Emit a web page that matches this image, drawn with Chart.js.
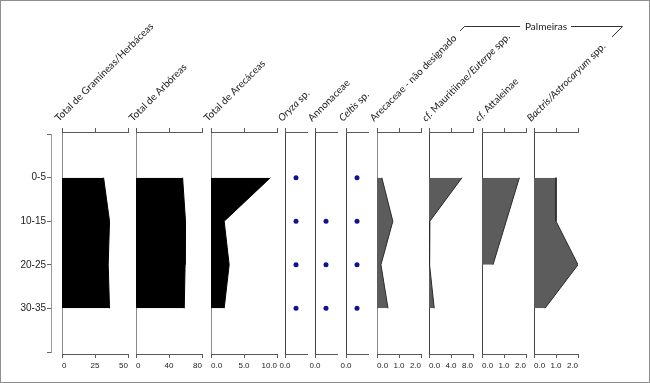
<!DOCTYPE html>
<html lang="pt">
<head>
<meta charset="UTF-8">
<title>Fitólitos por profundidade</title>
<script src="https://cdn.jsdelivr.net/npm/chart.js"></script>
<style>
  body { margin: 0; background: #fff; }
  #wrap { position: relative; width: 650px; height: 383px; overflow: hidden; background: #fff; }
  #wrap canvas { position: absolute; left: 0; top: 0; }
  #frame { position: absolute; left: 0; top: 0; width: 650px; height: 383px; box-sizing: border-box;
           border: 1px solid #8e8e8e; pointer-events: none; }
</style>
</head>
<body>
<div id="wrap">
  <canvas id="depth" width="650" height="383"></canvas>
  <div id="frame"></div>
</div>

<script>
// profundidades (cm)
const depthLabels = ['0-5', '10-15', '20-25', '30-35'];

// valores por amostra, de cima para baixo
const gramineas = [31.5, 36, 35, 36];
const arboreas = [56.5, 60, 59.5, 58.5];
const arecaceas = [9.0, 2.0, 2.75, 2.0];
const oryza = [1, 1, 1, 1];        // presença
const annonaceae = [0, 1, 1, 1];   // presença
const celtis = [1, 1, 1, 1];       // presença
const arecNaoDesig = [0.22, 0.72, 0.18, 0.5];
const mauritiinae = [6.0, 0.15, 0.1, 0.95];
const attaleinae = [1.7, 1.1, 0.5, null];
const bactris = [1.0, 1.0, 2.0, 0.5];

const panelTicks = [[0, 25, 50], [0, 40, 80], [0, 5, 10], [0], [0], [0], [0, 1, 2], [0, 4, 8], [0, 1, 2], [0, 1, 2]];
const panelTickLabels = [['0', '25', '50'], ['0', '40', '80'], ['0.0', '5.0', '10.0'], ['0.0'], ['0.0'], ['0.0'],
                         ['0.0', '1.0', '2.0'], ['0.0', '4.0', '8.0'], ['0.0', '1.0', '2.0'], ['0.0', '1.0', '2.0']];
const presenceMax = 2;

const titles = [
  [['Total de Gramíneas/Herbáceas', false]],
  [['Total de Arbóreas', false]],
  [['Total de Arecáceas', false]],
  [['Oryza', true], [' sp.', false]],
  [['Annonaceae', false]],
  [['Celtis', true], [' sp.', false]],
  [['Arecaceae - não designado', false]],
  [['cf.', true], [' Mauritiinae/', false], ['Euterpe', true], [' spp.', false]],
  [['cf.', true], [' Attaleinae', false]],
  [['Bactris/Astrocaryum', true], [' spp.', false]]
];
const groupLabel = 'Palmeiras';

// layout of the columns
const panels = [
  { series: gramineas, kind: 'area', left: 62, width: 66, fill: '#000', line: '#000', axis: '#8a8a8a' },
  { series: arboreas, kind: 'area', left: 136, width: 66, fill: '#000', line: '#000', axis: '#8a8a8a' },
  { series: arecaceas, kind: 'area', left: 211, width: 66, fill: '#000', line: '#000', axis: '#8a8a8a' },
  { series: oryza, kind: 'dots', left: 285, width: 22, axis: '#444' },
  { series: annonaceae, kind: 'dots', left: 315, width: 22, axis: '#444' },
  { series: celtis, kind: 'dots', left: 346, width: 22, axis: '#444' },
  { series: arecNaoDesig, kind: 'area', left: 377, width: 44, fill: '#5c5c5c', line: '#2a2a2a', axis: '#8a8a8a' },
  { series: mauritiinae, kind: 'area', left: 429, width: 44, fill: '#5c5c5c', line: '#2a2a2a', axis: '#444' },
  { series: attaleinae, kind: 'area', left: 482, width: 44, fill: '#5c5c5c', line: '#2a2a2a', axis: '#444' },
  { series: bactris, kind: 'area', left: 534, width: 44, fill: '#5c5c5c', line: '#2a2a2a', axis: '#444' }
];

const hAxis = '#5a5a5a';
const tickFont = { family: 'Liberation Sans', size: 8 };
const titleFont = '10px Lato';

function titlePlugin(parts) {
  return {
    id: 'columnTitle',
    afterDraw(chart) {
      const { ctx, chartArea } = chart;
      ctx.save();
      ctx.translate(chartArea.left - 3, 122);
      ctx.rotate(-Math.PI / 4);
      ctx.fillStyle = '#1a1a1a';
      ctx.textBaseline = 'alphabetic';
      let x = 0;
      parts.forEach(([txt, it]) => {
        ctx.font = (it ? 'italic ' : '') + titleFont;
        ctx.fillText(txt, x, 0);
        x += ctx.measureText(txt).width;
      });
      ctx.restore();
    }
  };
}

const groupBracket = {
  id: 'groupBracket',
  afterDraw(chart) {
    const ctx = chart.ctx;
    ctx.save();
    ctx.strokeStyle = '#333';
    ctx.lineWidth = 1;
    ctx.beginPath();
    ctx.moveTo(460, 31);
    ctx.lineTo(464.5, 26.5);
    ctx.lineTo(520, 26.5);
    ctx.moveTo(571, 26.5);
    ctx.lineTo(622.5, 26.5);
    ctx.lineTo(612, 37);
    ctx.stroke();
    ctx.font = titleFont;
    ctx.fillStyle = '#1a1a1a';
    ctx.textAlign = 'center';
    ctx.textBaseline = 'middle';
    ctx.fillText(groupLabel, 546, 26.5);
    ctx.restore();
  }
};

// depth axis
new Chart(document.getElementById('depth'), {
  type: 'line',
  data: { datasets: [] },
  options: {
    responsive: false,
    animation: false,
    layout: { padding: { left: 0, right: 590, top: 134, bottom: 31 } },
    plugins: { legend: { display: false }, tooltip: { enabled: false } },
    scales: {
      x: { display: false },
      y: {
        type: 'linear', min: 0, max: 5, reverse: true,
        afterFit: s => { s.width = 51; },
        ticks: { stepSize: 1, callback: v => depthLabels[v - 1] || '', font: { family: 'Liberation Sans', size: 10 }, color: '#222', padding: 1 },
        grid: { drawOnChartArea: false, color: '#666', tickLength: 4 },
        border: { color: '#999' }
      }
    }
  }
});

const wrap = document.getElementById('wrap');
const frame = document.getElementById('frame');

panels.forEach((p, i) => {
  const cv = document.createElement('canvas');
  cv.width = 650;
  cv.height = 383;
  wrap.insertBefore(cv, frame);

  const ticks = panelTicks[i];
  const labels = panelTickLabels[i];
  const max = p.kind === 'dots' ? presenceMax : ticks[ticks.length - 1];
  const setTicks = s => { s.ticks = ticks.map(v => ({ value: v })); };

  let dataset;
  if (p.kind === 'dots') {
    dataset = {
      type: 'scatter',
      data: p.series.map((v, k) => (v ? { x: v, y: k + 1 } : null)).filter(Boolean),
      pointRadius: 2.5,
      pointBackgroundColor: '#12128c',
      pointBorderWidth: 0
    };
  } else {
    dataset = {
      data: p.series.map((v, k) => ({ x: v, y: k + 1 })),
      borderColor: p.line,
      borderWidth: 1,
      backgroundColor: p.fill,
      fill: 'origin',
      pointRadius: 0,
      tension: 0
    };
  }

  new Chart(cv, {
    type: 'line',
    data: { datasets: [dataset] },
    options: {
      responsive: false,
      animation: false,
      indexAxis: 'y',
      layout: { padding: { left: p.left, right: 650 - p.left - p.width, top: 128, bottom: 13 } },
      plugins: { legend: { display: false }, tooltip: { enabled: false } },
      scales: {
        x: {
          type: 'linear', position: 'bottom', min: 0, max,
          afterBuildTicks: setTicks,
          afterFit: s => { s.height = 16; },
          ticks: {
            callback: (v, k) => labels[k], font: tickFont, color: '#222', padding: 3,
            maxRotation: 0, autoSkip: false, align: ticks.length > 1 ? 'inner' : 'center'
          },
          grid: {
            color: c => (c.tick && c.tick.value === 0 ? p.axis : 'rgba(0,0,0,0)'),
            tickColor: hAxis, tickLength: 4, lineWidth: 1
          },
          border: { color: hAxis }
        },
        xTop: {
          type: 'linear', axis: 'x', position: 'top', min: 0, max,
          afterBuildTicks: setTicks,
          afterFit: s => { s.height = 4; },
          ticks: { display: false },
          grid: { drawOnChartArea: false, color: hAxis, tickLength: 4 },
          border: { color: hAxis }
        },
        y: { type: 'linear', min: -0.05, max: 5.05, reverse: true, display: false }
      }
    },
    plugins: i === panels.length - 1 ? [titlePlugin(titles[i]), groupBracket] : [titlePlugin(titles[i])]
  });
});
</script>
</body>
</html>
